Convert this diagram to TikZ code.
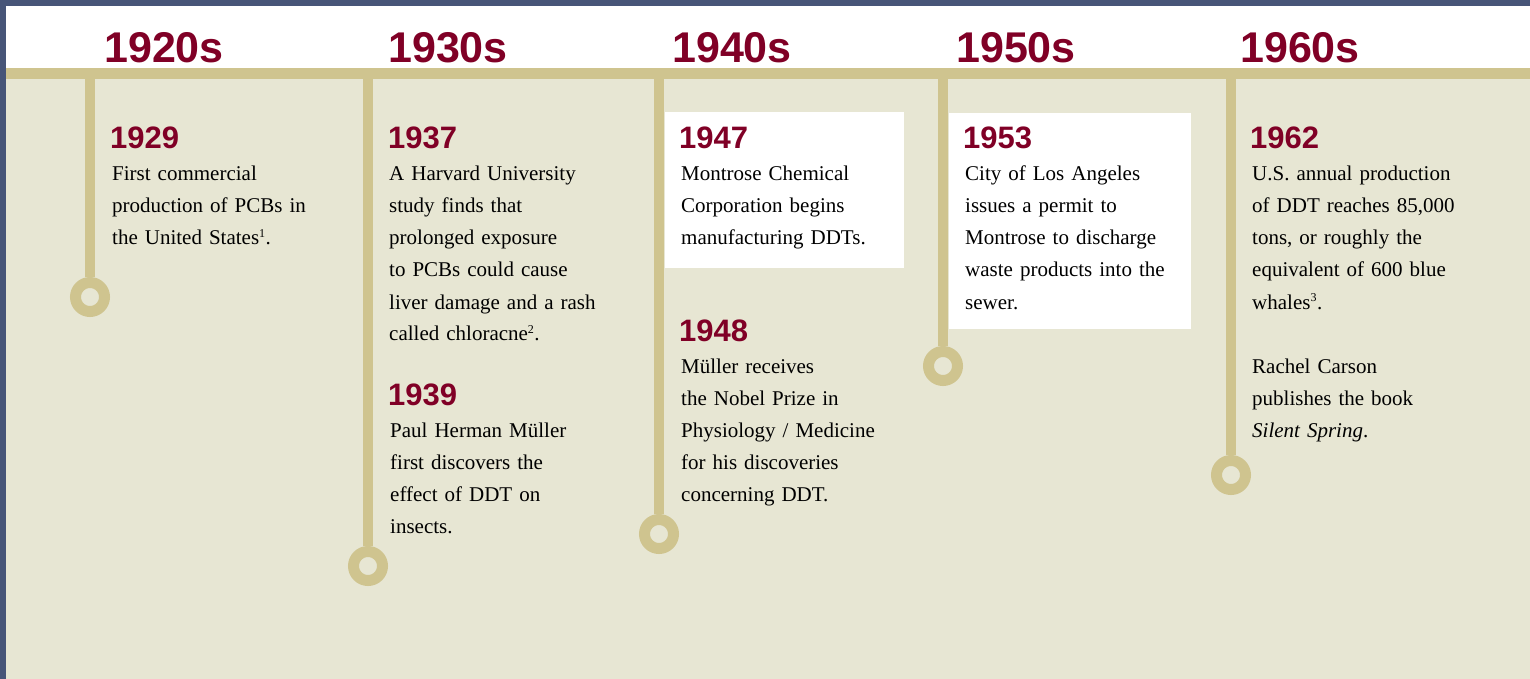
\documentclass[tikz,border=0pt]{standalone}
\usepackage{fontspec}
\setmainfont{Liberation Serif}
\newfontfamily\headfont{Liberation Sans}

\definecolor{frameblue}{HTML}{475578}
\definecolor{bartan}{HTML}{CFC48F}
\definecolor{paper}{HTML}{E7E6D3}
\definecolor{wine}{HTML}{800026}

% small footnote marks
\newcommand{\fnmark}[1]{\textsuperscript{\fontsize{12}{12}\selectfont #1}}

\tikzset{
  decade/.style={anchor=base west, inner sep=0pt, text=wine,
    font=\headfont\bfseries\fontsize{43}{43}\selectfont},
  yearlabel/.style={anchor=base west, inner sep=0pt, text=wine,
    font=\headfont\bfseries\fontsize{31}{31}\selectfont},
  entry/.style={anchor=base west, inner sep=0pt, text width=240pt, align=left,
    font=\fontsize{21}{32}\selectfont},
  stem/.style={bartan, line width=10pt},
  dot/.style={circle, draw=bartan, fill=paper, line width=11pt,
    minimum size=29pt, inner sep=0pt},
}

\begin{document}
\begin{tikzpicture}[x=1pt,y=-1pt]
        \useasboundingbox (0,0) rectangle (1530,679);

        % Background, header strip and frame
        \fill[paper] (0,0) rectangle (1530,679);
        \fill[white] (0,0) rectangle (1530,68);
        \fill[bartan] (0,68) rectangle (1530,79);
        \fill[frameblue] (0,0) rectangle (1530,6);
        \fill[frameblue] (0,0) rectangle (6,679);

        % Decades along the bar
        \foreach \lbl [count=\i from 0] in {1920s, 1930s, 1940s, 1950s, 1960s} {
            \node[decade] (dec\i) at (104+284*\i,63) {\lbl};
        }

        % Stems ending in rings
        \foreach \x/\y/\n in {90/297/a, 368/566/b, 659/534/c, 943/366/d, 1231/475/e} {
            \coordinate (top\n) at (\x,79);
            \node[dot] (dot\n) at (\x,\y) {};
            \draw[stem] (top\n) -- (dot\n);
        }

        % White boxes behind 1947 and 1953
        \fill[white] (665,112) rectangle (904,268);
        \fill[white] (949,113) rectangle (1191,329);

        % 1920s
        \node[yearlabel] (y1929) at (110,149) {1929};
        \node[entry] (t1929) at (112,181) {First commercial\\
            production of PCBs in\\ the United States\fnmark{1}.};

        % 1930s
        \node[yearlabel] (y1937) at (388,149) {1937};
        \node[entry] (t1937) at (389,181) {A Harvard University\\
            study finds that\\ prolonged exposure\\ to PCBs could cause\\
            liver damage and a rash\\ called chloracne\fnmark{2}.};

        \node[yearlabel] (y1939) at (388,405) {1939};
        \node[entry] (t1939) at (390,437) {Paul Herman Müller\\
            first discovers the\\ effect of DDT on\\ insects.};

        % 1940s
        \node[yearlabel] (y1947) at (679,149) {1947};
        \node[entry] (t1947) at (681,181) {Montrose Chemical\\
            Corporation begins\\ manufacturing DDTs.};

        \node[yearlabel] (y1948) at (679,341) {1948};
        \node[entry] (t1948) at (681,373) {Müller receives\\
            the Nobel Prize in\\ Physiology / Medicine\\ for his discoveries\\
            concerning DDT.};

        % 1950s
        \node[yearlabel] (y1953) at (963,149) {1953};
        \node[entry] (t1953) at (965,181) {City of Los Angeles\\
            issues a permit to\\ Montrose to discharge\\ waste products into the\\
            sewer.};

        % 1960s
        \node[yearlabel] (y1962) at (1250,149) {1962};
        \node[entry] (t1962) at (1252,181) {U.S. annual production\\
            of DDT reaches 85,000\\ tons, or roughly the\\ equivalent of 600 blue\\
            whales\fnmark{3}.\\[32pt]
            Rachel Carson\\ publishes the book\\ \textit{Silent Spring}.};

    \end{tikzpicture}
\end{document}
